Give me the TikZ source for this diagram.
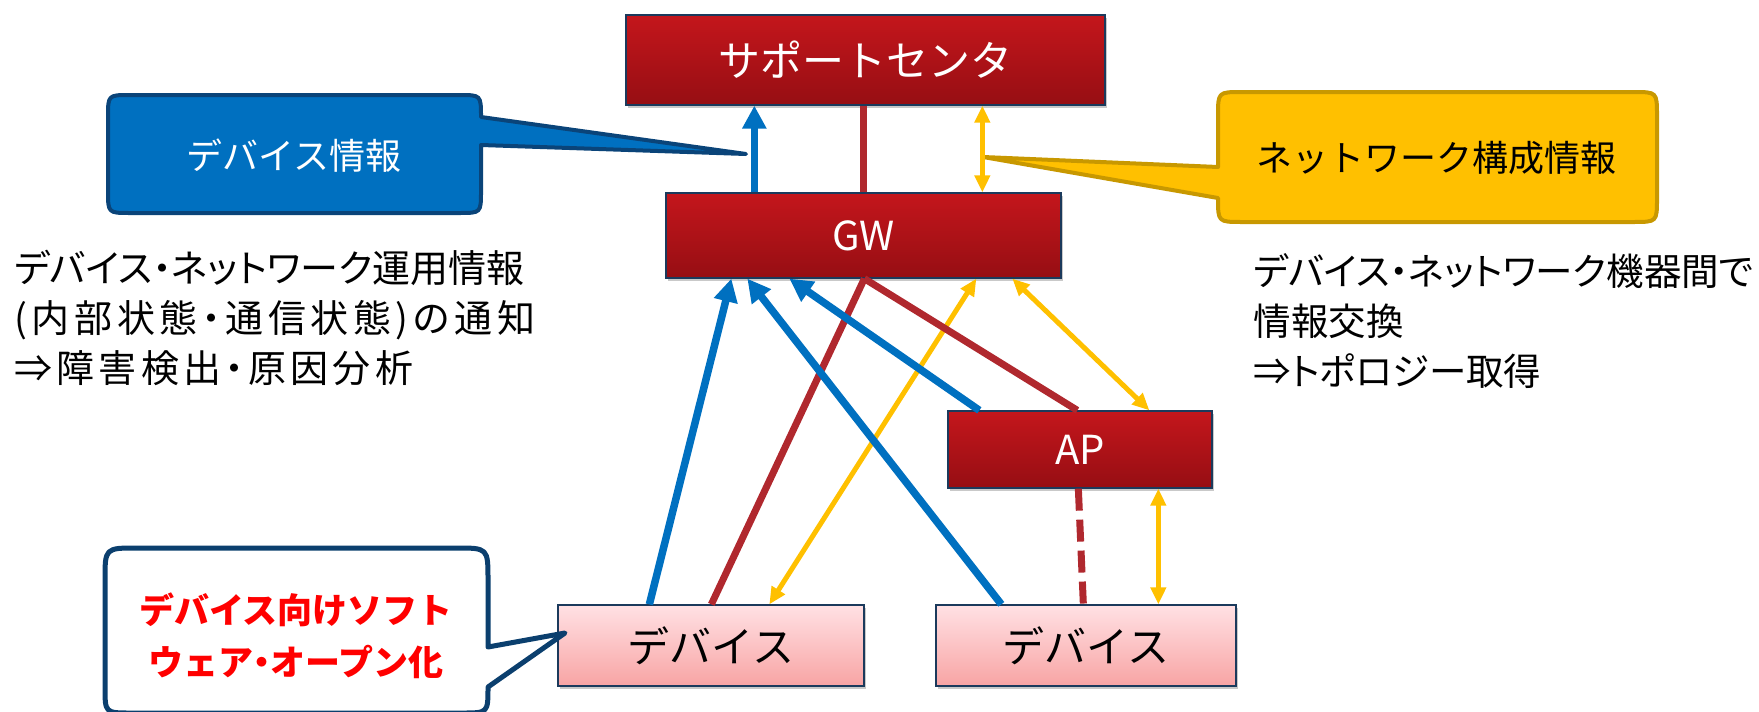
\documentclass[tikz,border=0pt]{standalone}
\usepackage{fontspec}
\setmainfont{Noto Sans CJK JP}
\newfontfamily\pfont{Noto Sans CJK JP}[RawFeature=+palt]
\usetikzlibrary{arrows.meta,calc,shadows}
\definecolor{navy}{HTML}{1B3A5C}
\definecolor{boxtop}{HTML}{C4161C}
\definecolor{boxbot}{HTML}{960E13}
\definecolor{pinktop}{HTML}{FFE1E4}
\definecolor{pinkbot}{HTML}{F8A4A4}
\definecolor{bluel}{HTML}{0070C0}
\definecolor{redl}{HTML}{B0282E}
\definecolor{yell}{HTML}{FFC000}
\definecolor{blueedge}{HTML}{0A4479}
\definecolor{yeledge}{HTML}{C89800}
\definecolor{whiteedge}{HTML}{0B3F6E}
\definecolor{txtred}{HTML}{FF0000}
\begin{document}
\begin{tikzpicture}[x=1pt,y=-1pt,
  shad/.style={drop shadow={shadow xshift=2pt,shadow yshift=-3pt,opacity=0.3,fill=black!70}},
  boxr/.style={draw=navy,line width=1.3pt,top color=boxtop,bottom color=boxbot,text=white,inner sep=0pt,shad},
  boxp/.style={draw=navy,line width=1.3pt,top color=pinktop,bottom color=pinkbot,text=black,inner sep=0pt,shad},
  bl/.style={draw=bluel,line width=7.5pt},
  rl/.style={draw=redl,line width=7pt},
  yl/.style={draw=yell,line width=5pt},
  bh/.style={-{Triangle[length=23pt,width=23pt]}},
  yh/.style={{Triangle[length=17pt,width=15pt]}-{Triangle[length=17pt,width=15pt]}},
]
\useasboundingbox (0,0) rectangle (1759,712);

% boxes
\node[boxr,minimum width=479pt,minimum height=90pt,font=\fontsize{42}{50}\selectfont] (sc) at (865.5,60) {サポートセンタ};
\node[boxr,minimum width=395pt,minimum height=85pt,font=\fontsize{40}{48}\selectfont] (gw) at (863.5,235.5) {GW};
\node[boxr,minimum width=264pt,minimum height=77pt,font=\fontsize{40}{48}\selectfont] (ap) at (1080,449.5) {AP};
\node[boxp,minimum width=306pt,minimum height=81pt,font=\fontsize{42}{50}\selectfont] (dev1) at (711,645.5) {デバイス};
\node[boxp,minimum width=300pt,minimum height=81pt,font=\fontsize{42}{50}\selectfont] (dev2) at (1086,645.5) {デバイス};

% blue callout
\draw[draw=blueedge,fill=bluel,line width=4pt,line join=round]
  (746,154) -- (481,145) -- (481,191) .. controls (481,213) .. (459,213) -- (130,213)
  .. controls (108,213) .. (108,191) -- (108,117) .. controls (108,95) .. (130,95)
  -- (459,95) .. controls (481,95) .. (481,117) -- cycle;
\node[text=white,font=\fontsize{36}{42}\selectfont] (bt) at (294,156) {デバイス情報};

% yellow callout
\draw[draw=yeledge,fill=yell,line width=4pt,line join=round]
  (983,157) -- (1218,198) .. controls (1218,222) .. (1242,222) -- (1633,222)
  .. controls (1657,222) .. (1657,198) -- (1657,116) .. controls (1657,92) .. (1633,92)
  -- (1242,92) .. controls (1218,92) .. (1218,116) -- (1218,167) -- cycle;
\node[text=black,font=\fontsize{36}{42}\selectfont] (yt) at (1436,158) {ネットワーク構成情報};

% top links
\coordinate (gt1) at ($(gw.north west)+(89,0)$);
\coordinate (gt2) at ($(gw.north west)+(198,0)$);
\coordinate (gt3) at ($(gw.north west)+(317,0)$);
\draw[bl,bh] (gt1) -- (gt1 |- sc.south);
\draw[rl] (gt2) -- (gt2 |- sc.south);
\draw[yl,yh] (gt3) -- (gt3 |- sc.south);

% lower links
\coordinate (gr) at ($(gw.south west)+(199,0)$);
\draw[bl,bh] ($(dev1.north west)+(92,0)$) -- ($(gw.south west)+(66,0)$);
\draw[rl] (gr) -- ($(dev1.north west)+(154,0)$);
\draw[yl,yh] ($(dev1.north west)+(212,0)$) -- ($(gw.south west)+(311,0)$);
\draw[bl,bh] ($(dev2.north west)+(66,0)$) -- ($(gw.south west)+(82,0)$);
\draw[bl,bh] ($(ap.north west)+(32,0)$) -- ($(gw.south west)+(124,0)$);
\draw[rl] (gr) -- ($(ap.north west)+(130,0)$);
\draw[yl,yh] ($(gw.south west)+(347,0)$) -- ($(ap.north west)+(202,0)$);
\draw[rl,dash pattern=on 22pt off 9pt] ($(ap.south west)+(131,0)$) -- ($(dev2.north west)+(148,0)$);
\coordinate (ay) at ($(ap.south west)+(211,0)$);
\draw[yl,yh] (ay) -- (ay |- dev2.north);

% bottom callout
\draw[draw=whiteedge,fill=white,line width=5pt,line join=round]
  (565,633) -- (488,687) .. controls (488,713) .. (462,713) -- (131,713)
  .. controls (105,713) .. (105,687) -- (105,580) .. controls (105,548) .. (137,548)
  -- (456,548) .. controls (488,548) .. (488,580) -- (488,647) -- cycle;
\node[text=txtred,font=\bfseries\fontsize{35}{52}\selectfont,align=center] (rt) at (296,636) {デバイス向けソフト\\ウェア{\pfont\bfseries ・}オープン化};

% side texts
\node[anchor=west,align=left,font=\pfont\fontsize{38}{50}\selectfont] (lt) at (11,318) {デバイス・ネットワーク運用情報\\{\addfontfeature{LetterSpace=12}(内部状態・通信状態)の通知}\\{\addfontfeature{LetterSpace=11}⇒障害検出・原因分析}};
\node[anchor=west,align=left,font=\pfont\fontsize{37.5}{50}\selectfont] (rtx) at (1250,321) {デバイス・ネットワーク機器間で\\情報交換\\⇒トポロジー取得};
\end{tikzpicture}
\end{document}
